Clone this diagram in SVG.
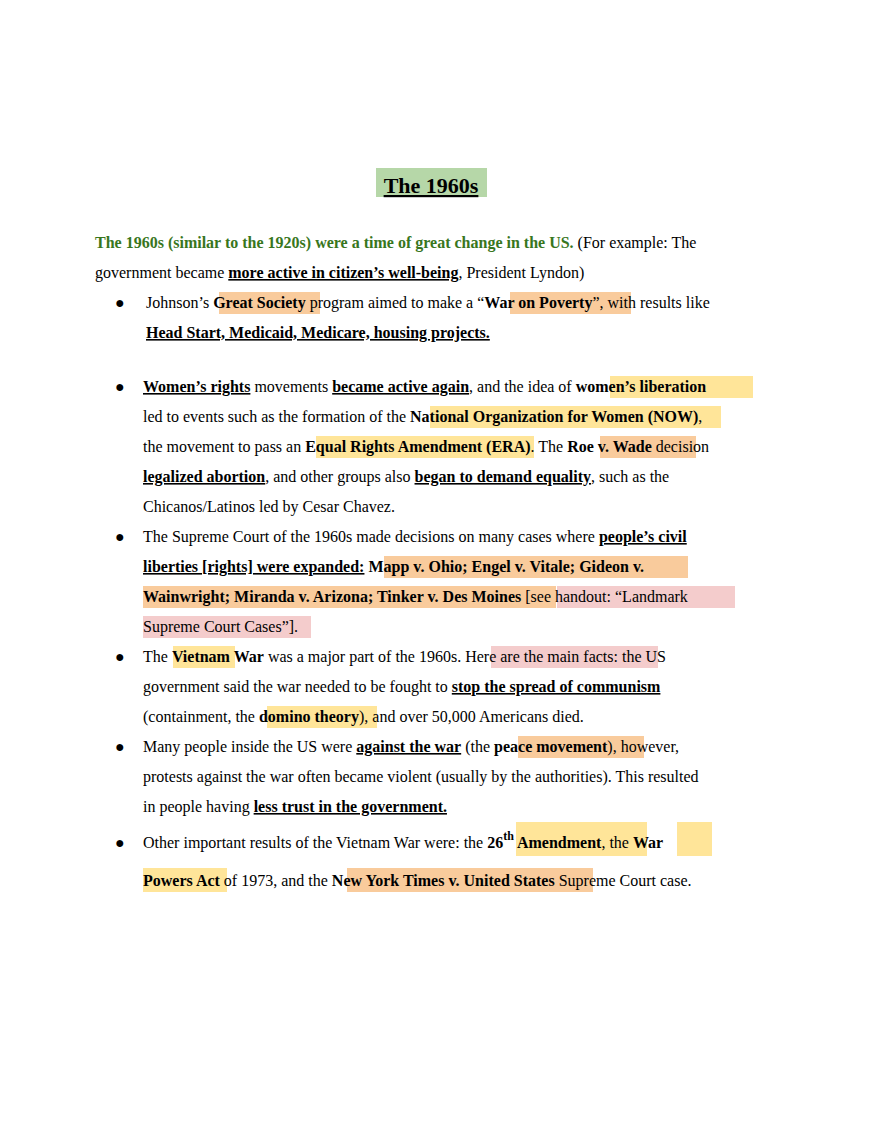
<svg xmlns="http://www.w3.org/2000/svg" width="880" height="1139" viewBox="0 0 880 1139">
<style>
text{font-family:"Liberation Serif","Times New Roman",serif;font-size:16px;fill:#000}
.b{font-weight:bold}
.u{text-decoration:underline}
.g{fill:#38761d;font-weight:bold}
.hy{fill:#ffe599}.ho{fill:#f9cb9c}.hp{fill:#f4cccc}.hg{fill:#b6d7a8}
</style>
<rect width="880" height="1139" fill="#fff"/>
<g id="highlights">
<rect class="hg" x="376" y="168" width="111" height="29"/>
<rect class="ho" x="219" y="292" width="101" height="22"/>
<rect class="ho" x="510" y="292" width="121" height="22"/>
<rect class="hy" x="610" y="376" width="143" height="22"/>
<rect class="hy" x="430" y="406" width="291" height="22"/>
<rect class="hy" x="316" y="436" width="218" height="22"/>
<rect class="ho" x="600" y="436" width="96" height="22"/>
<rect class="ho" x="384" y="556" width="304" height="22"/>
<rect class="ho" x="143" y="586" width="413" height="22"/>
<rect class="hp" x="557" y="586" width="178" height="22"/>
<rect class="hp" x="143" y="616" width="168" height="22"/>
<rect class="hy" x="173" y="646" width="62" height="22"/>
<rect class="hp" x="491" y="646" width="167" height="22"/>
<rect class="hy" x="267" y="706" width="110" height="22"/>
<rect class="ho" x="518" y="736" width="126" height="22"/>
<rect class="hy" x="516" y="822" width="131" height="34"/>
<rect class="hy" x="677" y="822" width="35" height="34"/>
<rect class="hy" x="143" y="868" width="84" height="24"/>
<rect class="ho" x="347" y="868" width="246" height="24"/>
</g>
<g id="title"><text x="431" y="193" text-anchor="middle" class="b u" style="font-size:22px">The 1960s</text></g>
<g id="intro">
<text x="95" y="248"><tspan class="g">The 1960s (similar to the 1920s) were a time of great change in the US.</tspan> (For example: The</text>
<text x="95" y="278">government became <tspan class="b u">more active in citizen’s well-being</tspan>, President Lyndon)</text>
</g>
<g id="bullets">
<text x="115" y="308">●</text>
<text x="146" y="308">Johnson’s <tspan class="b">Great Society</tspan> program aimed to make a “<tspan class="b">War on Poverty</tspan>”, with results like</text>
<text x="146" y="338" class="b u">Head Start, Medicaid, Medicare, housing projects.</text>

<text x="115" y="392">●</text>
<text x="143" y="392"><tspan class="b u">Women’s rights</tspan> movements <tspan class="b u">became active again</tspan>, and the idea of <tspan class="b">women’s liberation</tspan></text>
<text x="143" y="422">led to events such as the formation of the <tspan class="b">National Organization for Women (NOW)</tspan>,</text>
<text x="143" y="452">the movement to pass an <tspan class="b">Equal Rights Amendment (ERA)</tspan>. The <tspan class="b">Roe v. Wade</tspan> decision</text>
<text x="143" y="482"><tspan class="b u">legalized abortion</tspan>, and other groups also <tspan class="b u">began to demand equality</tspan>, such as the</text>
<text x="143" y="512">Chicanos/Latinos led by Cesar Chavez.</text>

<text x="115" y="542">●</text>
<text x="143" y="542">The Supreme Court of the 1960s made decisions on many cases where <tspan class="b u">people’s civil</tspan></text>
<text x="143" y="572"><tspan class="b u">liberties [rights] were expanded:</tspan> <tspan class="b">Mapp v. Ohio; Engel v. Vitale; Gideon v.</tspan></text>
<text x="143" y="602"><tspan class="b">Wainwright; Miranda v. Arizona; Tinker v. Des Moines</tspan> [see handout: “Landmark</text>
<text x="143" y="632">Supreme Court Cases”].</text>

<text x="115" y="662">●</text>
<text x="143" y="662">The <tspan class="b">Vietnam War</tspan> was a major part of the 1960s. Here are the main facts: the US</text>
<text x="143" y="692">government said the war needed to be fought to <tspan class="b u">stop the spread of communism</tspan></text>
<text x="143" y="722">(containment, the <tspan class="b">domino theory</tspan>), and over 50,000 Americans died.</text>

<text x="115" y="752">●</text>
<text x="143" y="752">Many people inside the US were <tspan class="b u">against the war</tspan> (the <tspan class="b">peace movement</tspan>), however,</text>
<text x="143" y="782">protests against the war often became violent (usually by the authorities).  This resulted</text>
<text x="143" y="812">in people having <tspan class="b u">less trust in the government.</tspan></text>

<text x="115" y="848">●</text>
<text x="143" y="848">Other important results of the Vietnam War were: the <tspan class="b">26</tspan><tspan class="b" dy="-8" style="font-size:12px">th</tspan><tspan class="b" dy="8"> Amendment</tspan>, the <tspan class="b">War</tspan></text>
<text x="143" y="886"><tspan class="b">Powers Act</tspan> of 1973, and the <tspan class="b">New York Times v. United States</tspan> Supreme Court case.</text>
</g>
</svg>
